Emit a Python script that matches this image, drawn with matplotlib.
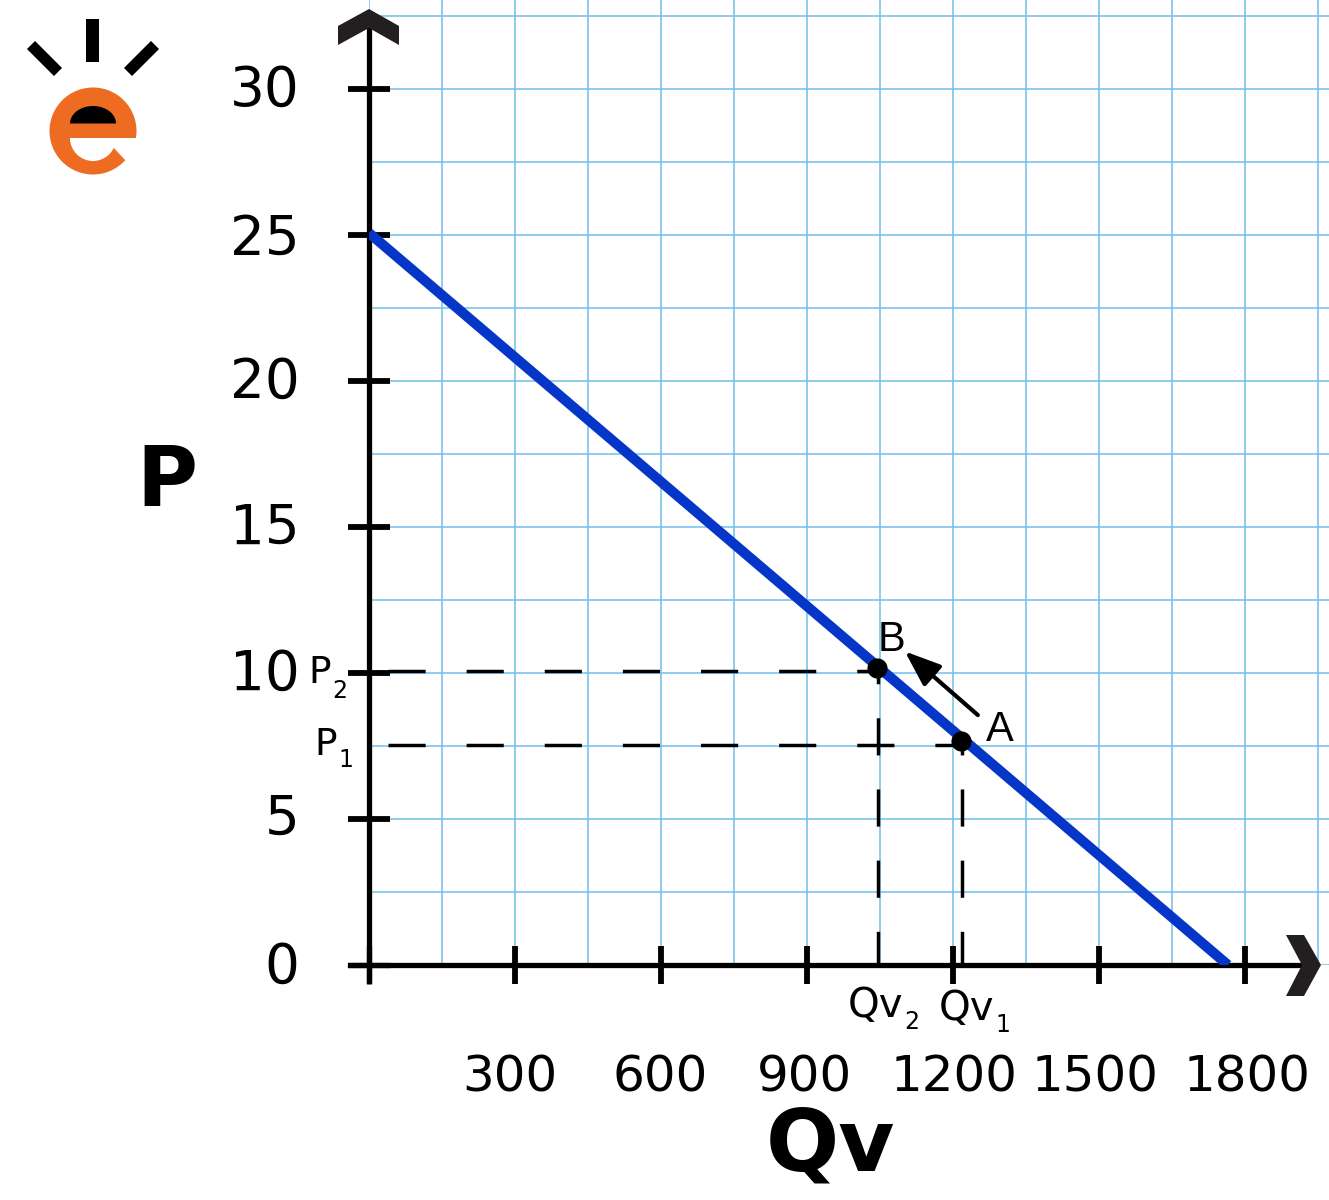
import matplotlib
matplotlib.use('Agg')
import matplotlib.pyplot as plt
import numpy as np
from matplotlib.patches import Polygon, Wedge, Circle, Rectangle
from matplotlib.transforms import ScaledTranslation

# data
x_ticks = [0, 300, 600, 900, 1200, 1500, 1800]
x_tick_labels = ['', '300', '600', '900', '1200', '1500', '1800']
y_ticks = [0, 5, 10, 15, 20, 25, 30]
y_tick_labels = ['0', '5', '10', '15', '20', '25', '30']
x_minor = [150, 450, 750, 1050, 1350, 1650, 1950]
y_minor = [2.5, 7.5, 12.5, 17.5, 22.5, 27.5, 32.5]

demand_q = [0, 1765]
demand_p = [25.07, 0]
point_q = [1044, 1216]   # B, A
point_p = [10.17, 7.67]
qv_guides = [1046, 1218]
p_guides = [10.07, 7.53]

grid_color = '#74c1ed'
blue = '#0536c8'
chevron = '#231f20'
orange = '#ee6c22'

W, H = 1329, 1200
fig = plt.figure(figsize=(W / 100, H / 100), dpi=100)
x0_px, y0_px = 369, 965

# main axes, from the origin to the right and top edges of the picture
ax = fig.add_axes([x0_px / W, (H - y0_px) / H, (W - x0_px) / W, y0_px / H])
ax.set_xlim(0, (W - x0_px) / 0.48667)
ax.set_ylim(0, y0_px / 29.2)
ax.patch.set_alpha(0)

ax.set_xticks(x_ticks)
ax.set_xticklabels(x_tick_labels)
ax.set_yticks(y_ticks)
ax.set_yticklabels(y_tick_labels)
ax.set_xticks(x_minor, minor=True)
ax.set_yticks(y_minor, minor=True)
ax.tick_params(which='minor', length=0)
ax.tick_params(axis='x', which='major', direction='inout', length=27, width=4.2,
               labelsize=36, pad=50)
ax.tick_params(axis='y', which='major', direction='inout', length=30, width=4.2,
               labelsize=39.5, pad=35)
ax.grid(True, which='both', color=grid_color, lw=1.15)
ax.set_axisbelow(True)

for s in ['top', 'right']:
    ax.spines[s].set_visible(False)
ax.spines['left'].set_linewidth(3.8)
ax.spines['bottom'].set_linewidth(3.8)
ax.spines['bottom'].set_bounds(-40, 1930)
ax.spines['left'].set_bounds(-0.5, 32.4)

# the ticks at the origin run along the axes, so keep them the same width
ax.xaxis.get_major_ticks()[0].tick1line.set_markeredgewidth(3.8)
ax.yaxis.get_major_ticks()[0].tick1line.set_markeredgewidth(3.8)

# tick labels are not evenly placed in the original
x_shift = [0, -5, -1, -3, 1, -4, 2]
y_shift = [3, 5, 4, 4, 4, 1, 4]
for lab, dx in zip(ax.get_xticklabels(), x_shift):
    lab.set_transform(lab.get_transform() + ScaledTranslation(dx / 100, 0, fig.dpi_scale_trans))
for lab, dy in zip(ax.get_yticklabels(), y_shift):
    lab.set_transform(lab.get_transform() + ScaledTranslation(0, dy / 100, fig.dpi_scale_trans))

# axis titles
ax.set_xlabel('Qv', fontsize=62, fontweight='bold', va='center')
ax.xaxis.set_label_coords((830 - x0_px) / (W - x0_px), -(1147 - y0_px) / y0_px)
ax.set_ylabel('P', fontsize=60, fontweight='bold', rotation=0, va='center', ha='center')
ax.yaxis.set_label_coords((167 - x0_px) / (W - x0_px), (y0_px - 483) / y0_px)

# demand line
ax.plot(demand_q, demand_p, color=blue, lw=7.3, solid_capstyle='butt', zorder=3)

# dashed guides
dash_h = (0, (10.7, 11.8))
dash_v = (1, (10.7, 9.8))
ax.plot([39, point_q[0]], [p_guides[0]] * 2, color='black', lw=2.5, ls=dash_h, dash_capstyle='butt', zorder=3)
ax.plot([39, point_q[1]], [p_guides[1]] * 2, color='black', lw=2.5, ls=dash_h, dash_capstyle='butt', zorder=3)
ax.plot([qv_guides[0]] * 2, [0, point_p[0]], color='black', lw=2.5, ls=dash_v, dash_capstyle='butt', zorder=3)
ax.plot([qv_guides[1]] * 2, [0, point_p[1]], color='black', lw=2.5, ls=dash_v, dash_capstyle='butt', zorder=3)

# points and arrow
ax.plot(point_q, point_p, 'o', color='black', ms=14.5, mew=0, zorder=4)
ax.annotate('', xy=(1101, 10.74), xytext=(1251, 8.56),
            arrowprops=dict(arrowstyle='-|>,head_length=1.0,head_width=0.38', color='black',
                            lw=3, mutation_scale=22, shrinkA=0, shrinkB=0), zorder=4)

# overlay in pixels for the logo, chevrons and small labels
ov = fig.add_axes([0, 0, 1, 1])
ov.set_xlim(0, W)
ov.set_ylim(H, 0)
ov.axis('off')

ov.add_patch(Polygon([(369, 9), (399, 26), (399, 45), (369, 28), (338, 45), (338, 26)], color=chevron, lw=0))
ov.add_patch(Polygon([(1321, 965), (1304, 935), (1286, 935), (1302, 965), (1286, 996), (1304, 996)], color=chevron, lw=0))

# logo
ov.add_patch(Rectangle((86, 19), 13, 43, color='black', lw=0))
ov.plot([31, 58], [45, 72], color='black', lw=8.2, solid_capstyle='butt')
ov.plot([155, 128], [45, 72], color='black', lw=8.2, solid_capstyle='butt')
ov.add_patch(Circle((93, 131), 43.5, color=orange, lw=0))
ov.add_patch(Wedge((93, 138), 23, 0, 180, color='white', lw=0))
ov.add_patch(Polygon([(93, 138), (140, 138), (140, 176), (112, 146)], color='white', lw=0))
t = np.linspace(np.pi, 2 * np.pi, 40)
ov.add_patch(Polygon(np.column_stack([93 + 23 * np.cos(t), 123.5 + 17.5 * np.sin(t)]), color='black', lw=0))


def small_label(x, y, main, sub, sub_x, sub_y, size):
    ov.text(x, y, main, fontsize=size, ha='left', va='baseline')
    ov.text(sub_x, sub_y, sub, fontsize=17, ha='left', va='baseline')


small_label(308, 683, 'P', '2', 332, 698, 27)
small_label(314, 755, 'P', '1', 338, 767, 27)
small_label(848, 1017, 'Qv', '2', 904, 1029, 29)
small_label(939, 1020, 'Qv', '1', 995, 1032, 29)
ov.text(878, 651, 'B', fontsize=30, family='Liberation Sans', ha='left', va='baseline')
ov.text(986, 741, 'A', fontsize=30, family='Liberation Sans', ha='left', va='baseline')

plt.savefig('out.png', dpi=100)
